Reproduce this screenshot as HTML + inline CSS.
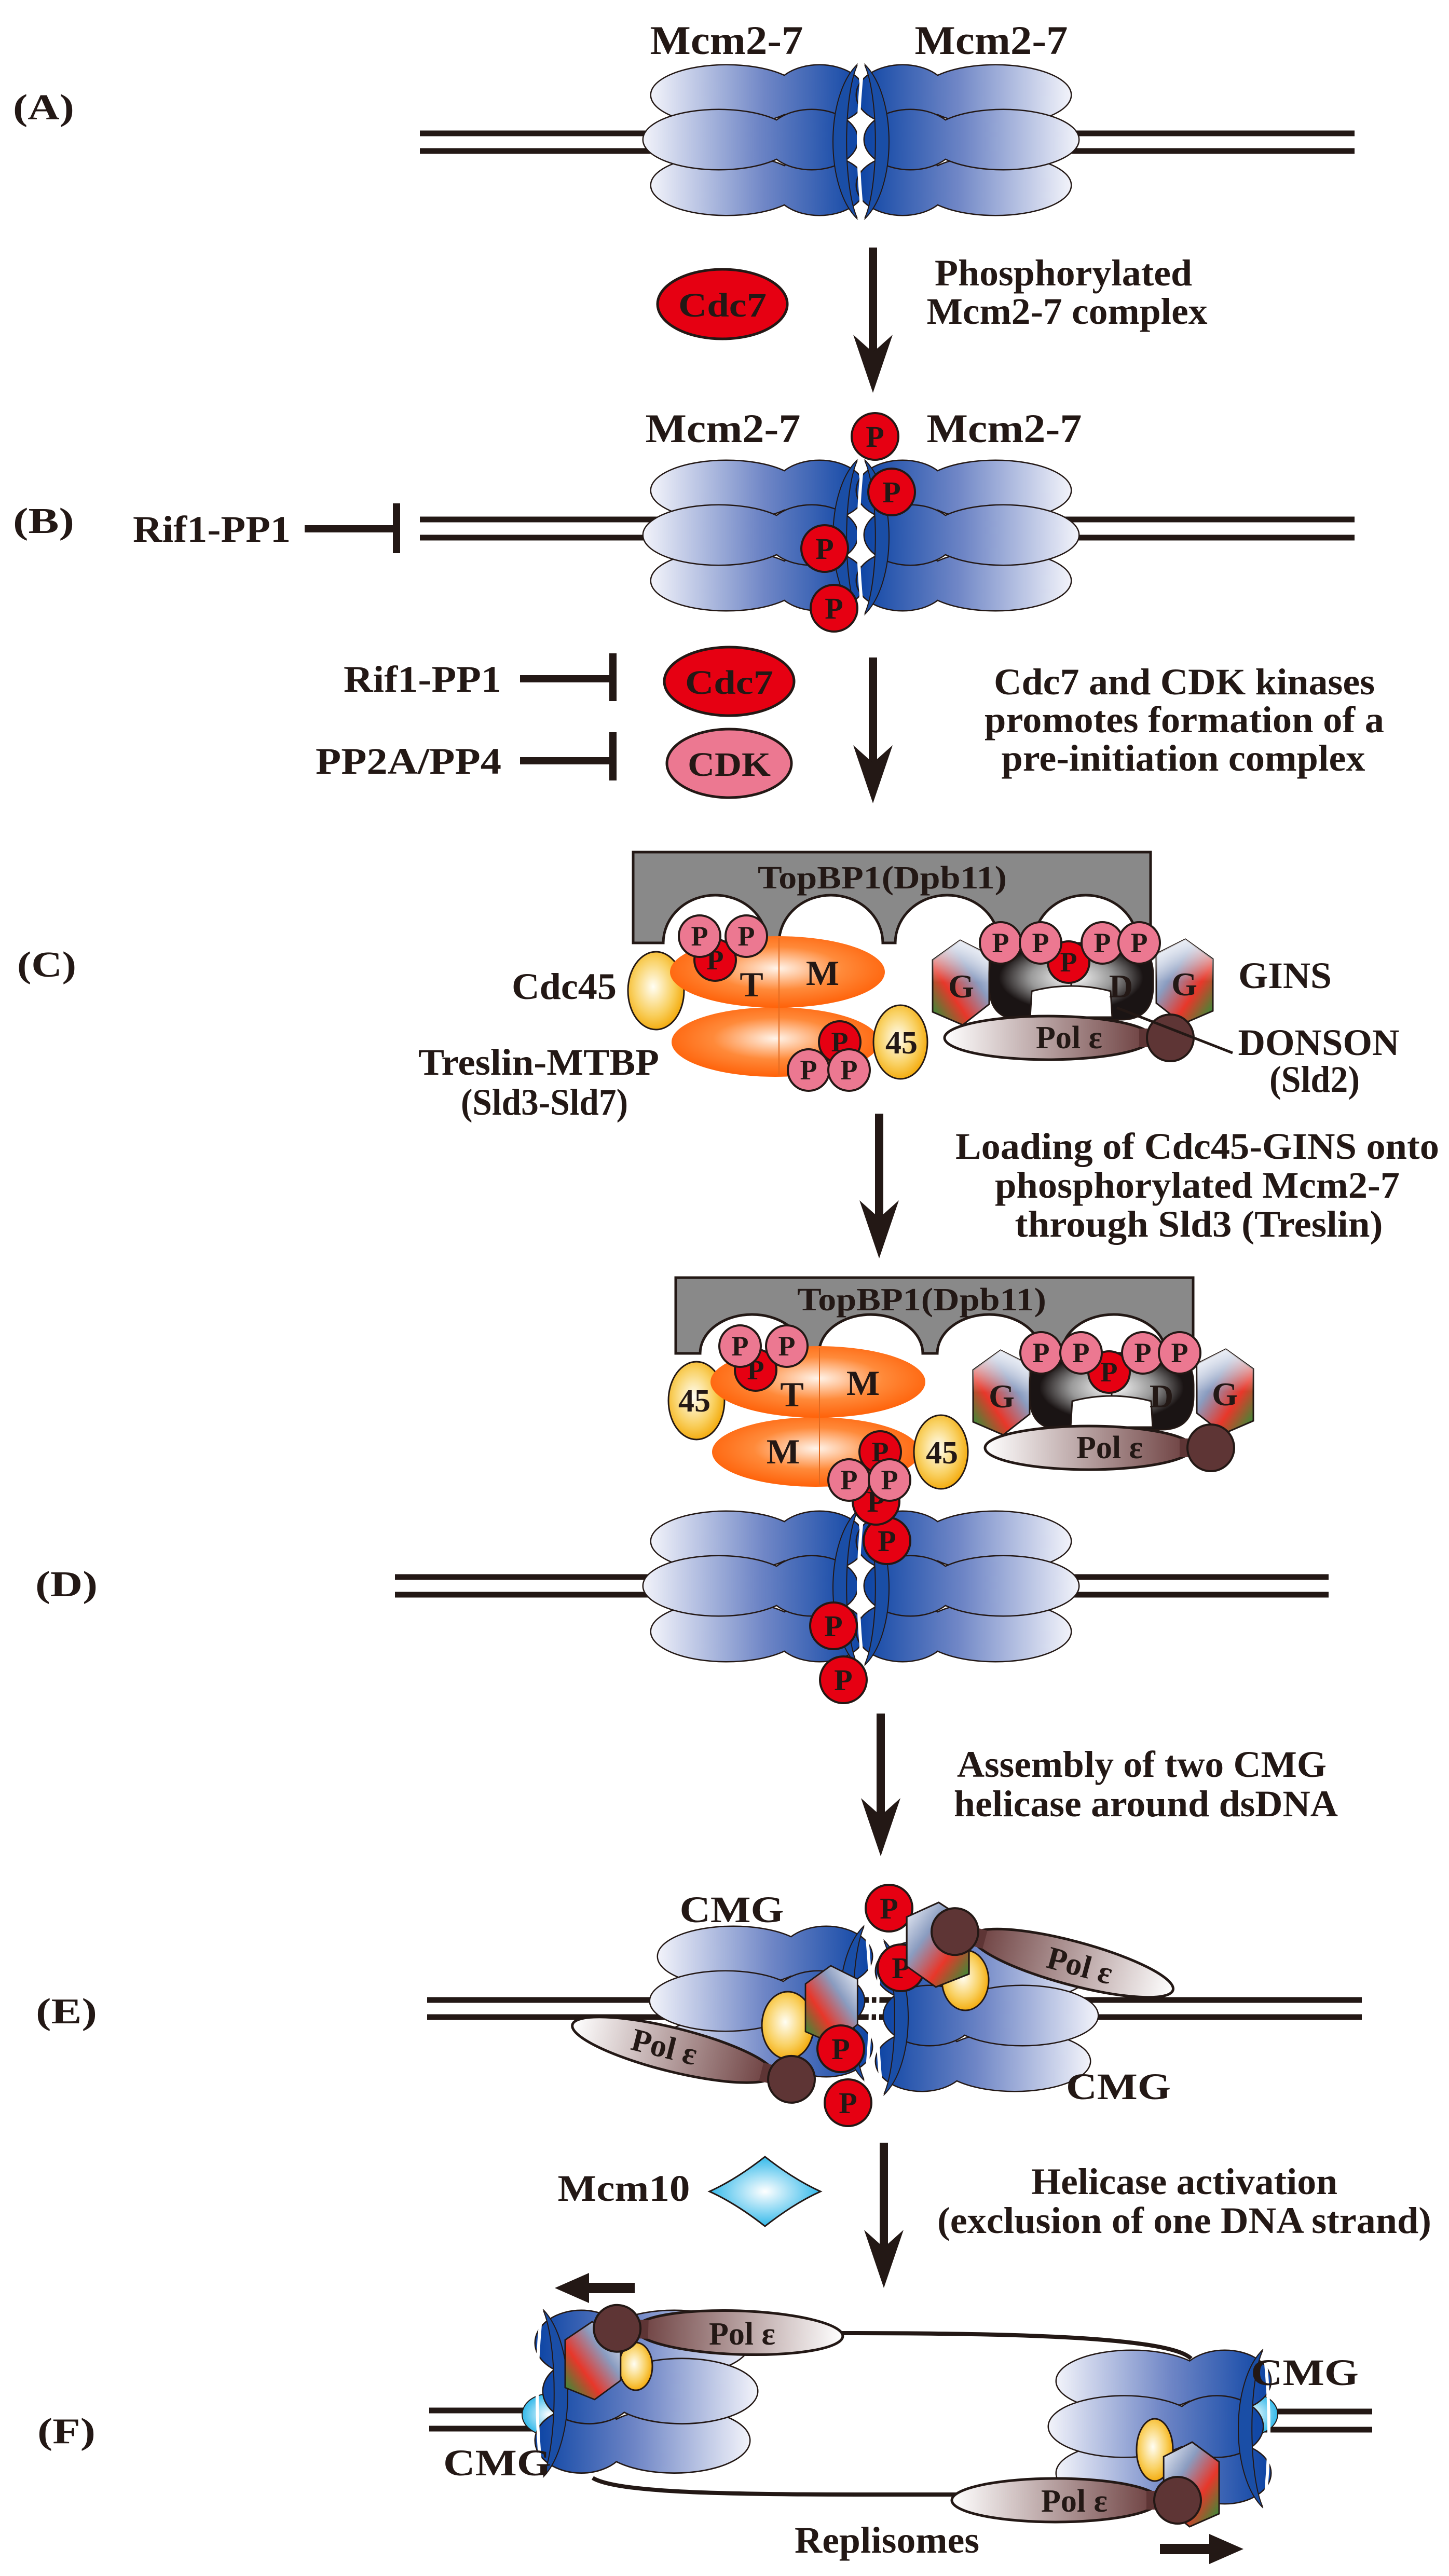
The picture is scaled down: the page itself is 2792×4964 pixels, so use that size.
<!DOCTYPE html>
<html><head><meta charset="utf-8"><style>
html,body{margin:0;padding:0;background:#fff;}
svg{display:block;}
.t{font-family:"Liberation Serif",serif;font-weight:bold;fill:#231815;}
</style></head><body>
<svg width="2792" height="4964" viewBox="0 0 2792 4964" xmlns="http://www.w3.org/2000/svg">
<defs>
<linearGradient id="gMcm" gradientUnits="userSpaceOnUse" x1="-420" y1="0" x2="-20" y2="0">
<stop offset="0" stop-color="#f2f3fa"/><stop offset="0.55" stop-color="#6f86c6"/><stop offset="1" stop-color="#1248a6"/></linearGradient>
<linearGradient id="gPol" gradientUnits="userSpaceOnUse" x1="-200" y1="0" x2="200" y2="0">
<stop offset="0" stop-color="#ffffff"/><stop offset="1" stop-color="#6a3c3c"/></linearGradient>
<radialGradient id="gOr" cx="0.5" cy="0.45" r="0.6"><stop offset="0" stop-color="#fff4ea"/><stop offset="0.5" stop-color="#ff8a3a"/><stop offset="1" stop-color="#ff5a00"/></radialGradient>
<radialGradient id="gY" cx="0.45" cy="0.45" r="0.6"><stop offset="0" stop-color="#fffef4"/><stop offset="0.6" stop-color="#f9d060"/><stop offset="1" stop-color="#f3a500"/></radialGradient>
<radialGradient id="gBk" cx="0.5" cy="0.45" r="0.55"><stop offset="0" stop-color="#ffffff"/><stop offset="0.45" stop-color="#9a9a9a"/><stop offset="0.8" stop-color="#1a1414"/><stop offset="1" stop-color="#1a1414"/></radialGradient>
<radialGradient id="gCy" cx="0.5" cy="0.5" r="0.55"><stop offset="0" stop-color="#ffffff"/><stop offset="1" stop-color="#1fb2e8"/></radialGradient>
<linearGradient id="gHex" x1="0" y1="1" x2="1" y2="0"><stop offset="0" stop-color="#0fa03a"/><stop offset="0.35" stop-color="#e8372a"/><stop offset="0.65" stop-color="#8a9cc0"/><stop offset="1" stop-color="#f4f6fb"/></linearGradient>
<linearGradient id="gHex2" x1="0" y1="0" x2="0" y2="1"><stop offset="0" stop-color="#f4f6fb" stop-opacity="0.9"/><stop offset="0.5" stop-color="#ffffff" stop-opacity="0"/></linearGradient>

<g id="layer">
<ellipse cx="-274" cy="0" rx="145" ry="57" fill="none" stroke="#231815" stroke-width="5"/>
<ellipse cx="-95" cy="0" rx="88" ry="57" fill="none" stroke="#231815" stroke-width="5"/>
<ellipse cx="-274" cy="0" rx="145" ry="57" fill="url(#gMcm)"/>
<ellipse cx="-95" cy="0" rx="88" ry="57" fill="url(#gMcm)"/>
</g>
<g id="mcmL">
<use href="#layer" transform="translate(15,-90)"/>
<use href="#layer" transform="translate(15,84)"/>
<use href="#layer" transform="translate(0,-4)"/>
<path d="M-6,-150 C-70,-90 -70,90 -6,150 C-35,90 -35,-90 -6,-150Z" fill="#1a4ea6" stroke="#231815" stroke-width="2"/>
<path d="M-4,-150 Q14,0 -4,150" fill="none" stroke="#fff" stroke-width="6"/>
</g>
<g id="mcm"><use href="#mcmL"/><use href="#mcmL" transform="scale(-1,1)"/></g>

<g id="polS">
<ellipse cx="0" cy="0" rx="200" ry="42" fill="url(#gPol)" stroke="#231815" stroke-width="5"/>
<rect x="175" y="-18" width="60" height="36" fill="#5e3535"/>
<circle cx="235" cy="0" r="45" fill="#5e3535" stroke="#231815" stroke-width="4"/>
</g>
<polygon id="hexL" points="0,38 53,0 109,28 109,123 58,163 0,138" fill="url(#gHex)" stroke="#231815" stroke-width="3"/>
<polygon id="hexW" points="0,38 53,0 109,28 109,123 58,163 0,138" fill="url(#gHex2)"/>

<g id="pR"><circle r="45" fill="#e60012" stroke="#231815" stroke-width="4"/><text class="t" y="20" text-anchor="middle" font-size="58">P</text></g>
<g id="pr"><circle r="40" fill="#e60012" stroke="#231815" stroke-width="4"/><text class="t" y="18" text-anchor="middle" font-size="54">P</text></g>
<g id="pk"><circle r="40" fill="#ec7891" stroke="#231815" stroke-width="4"/><text class="t" y="18" text-anchor="middle" font-size="54">P</text></g>

<g id="pic">
<ellipse cx="1264" cy="1909" rx="54" ry="75" fill="url(#gY)" stroke="#231815" stroke-width="3"/>
<ellipse cx="1494" cy="2008" rx="200" ry="67" fill="url(#gOr)"/>
<ellipse cx="1498" cy="1873" rx="207" ry="69" fill="url(#gOr)"/>
<line x1="1501" y1="1808" x2="1501" y2="2072" stroke="#e06a20" stroke-width="2"/>
<use href="#pr" x="1378" y="1850"/>
<use href="#pk" x="1348" y="1804"/>
<use href="#pk" x="1438" y="1804"/>
<text class="t" x="1448" y="1920" text-anchor="middle" font-size="68">T</text>
<text class="t" x="1585" y="1898" text-anchor="middle" font-size="68">M</text>
<ellipse cx="1735" cy="2008" rx="52" ry="71" fill="url(#gY)" stroke="#231815" stroke-width="3"/>
<text class="t" x="1737" y="2030" text-anchor="middle" font-size="62">45</text>
<use href="#pr" x="1618" y="2008"/>
<use href="#pk" x="1558" y="2062"/>
<use href="#pk" x="1636" y="2062"/>
<use href="#hexL" transform="translate(1797,1812)"/>
<use href="#hexW" transform="translate(1797,1812)"/>
<use href="#hexL" transform="translate(2337,1810) scale(-1,1)"/>
<use href="#hexW" transform="translate(2337,1810) scale(-1,1)"/>
<path d="M1906,1880 Q1906,1817 1965,1817 H2163 Q2222,1817 2222,1880 V1900 Q2222,1965 2160,1965 H1968 Q1906,1965 1906,1900Z" fill="url(#gBk)" stroke="#231815" stroke-width="3"/>
<path d="M1985,1960 L1988,1910 Q2064,1890 2140,1910 L2143,1960Z" fill="#fff" stroke="#231815" stroke-width="3"/>
<line x1="2064" y1="1860" x2="2064" y2="1900" stroke="#231815" stroke-width="3"/>
<use href="#pr" x="2059" y="1854"/>
<use href="#pk" x="1928" y="1817"/>
<use href="#pk" x="2005" y="1817"/>
<use href="#pk" x="2124" y="1817"/>
<use href="#pk" x="2195" y="1817"/>
<text class="t" x="1852" y="1922" text-anchor="middle" font-size="64">G</text>
<text class="t" x="2282" y="1918" text-anchor="middle" font-size="64">G</text>
<text class="t" x="2160" y="1922" text-anchor="middle" font-size="64" fill="#231815">D</text>
<use href="#polS" transform="translate(2020,2000)"/>
<text class="t" x="2060" y="2020" text-anchor="middle" font-size="62">Pol ε</text>
</g>
<polygon id="ah" points="0,0 -38,-112 0,-78 38,-112" fill="#231815"/>
</defs>

<!-- (A) -->
<text class="t" x="84" y="230" text-anchor="middle" font-size="70" textLength="118" lengthAdjust="spacingAndGlyphs">(A)</text>
<text class="t" x="1400" y="104" text-anchor="middle" font-size="78" textLength="295" lengthAdjust="spacingAndGlyphs">Mcm2-7</text>
<text class="t" x="1910" y="104" text-anchor="middle" font-size="78" textLength="295" lengthAdjust="spacingAndGlyphs">Mcm2-7</text>
<g stroke="#231815" stroke-width="11"><line x1="809" y1="257" x2="1300" y2="257"/><line x1="809" y1="291" x2="1300" y2="291"/><line x1="2000" y1="257" x2="2610" y2="257"/><line x1="2000" y1="291" x2="2610" y2="291"/></g>
<use href="#mcm" transform="translate(1659,273)"/>
<ellipse cx="1392" cy="586" rx="125" ry="67" fill="#e60012" stroke="#231815" stroke-width="5"/>
<text class="t" x="1392" y="610" text-anchor="middle" font-size="66" textLength="170" lengthAdjust="spacingAndGlyphs">Cdc7</text>
<line x1="1682" y1="477" x2="1682" y2="690" stroke="#231815" stroke-width="16"/><use href="#ah" x="1682" y="757"/>
<text class="t" x="2049" y="550" text-anchor="middle" font-size="72" textLength="496" lengthAdjust="spacingAndGlyphs">Phosphorylated</text>
<text class="t" x="2056" y="624" text-anchor="middle" font-size="72" textLength="541" lengthAdjust="spacingAndGlyphs">Mcm2-7 complex</text>

<!-- (B) -->
<text class="t" x="84" y="1027" text-anchor="middle" font-size="70" textLength="118" lengthAdjust="spacingAndGlyphs">(B)</text>
<text class="t" x="1393" y="852" text-anchor="middle" font-size="78" textLength="299" lengthAdjust="spacingAndGlyphs">Mcm2-7</text>
<text class="t" x="1935" y="852" text-anchor="middle" font-size="78" textLength="299" lengthAdjust="spacingAndGlyphs">Mcm2-7</text>
<text class="t" x="408" y="1044" text-anchor="middle" font-size="72" textLength="304" lengthAdjust="spacingAndGlyphs">Rif1-PP1</text>
<line x1="587" y1="1019" x2="764" y2="1019" stroke="#231815" stroke-width="14"/><line x1="764" y1="970" x2="764" y2="1066" stroke="#231815" stroke-width="14"/>
<g stroke="#231815" stroke-width="11"><line x1="809" y1="1001" x2="1300" y2="1001"/><line x1="809" y1="1036" x2="1300" y2="1036"/><line x1="2000" y1="1001" x2="2610" y2="1001"/><line x1="2000" y1="1036" x2="2610" y2="1036"/></g>
<use href="#mcm" transform="translate(1659,1035)"/>
<use href="#pR" x="1686" y="841"/><use href="#pR" x="1718" y="948"/><use href="#pR" x="1589" y="1057"/><use href="#pR" x="1607" y="1172"/>
<text class="t" x="814" y="1333" text-anchor="middle" font-size="72" textLength="304" lengthAdjust="spacingAndGlyphs">Rif1-PP1</text>
<line x1="1002" y1="1308" x2="1181" y2="1308" stroke="#231815" stroke-width="14"/><line x1="1181" y1="1259" x2="1181" y2="1351" stroke="#231815" stroke-width="14"/>
<text class="t" x="787" y="1491" text-anchor="middle" font-size="72" textLength="358" lengthAdjust="spacingAndGlyphs">PP2A/PP4</text>
<line x1="1002" y1="1466" x2="1181" y2="1466" stroke="#231815" stroke-width="14"/><line x1="1181" y1="1411" x2="1181" y2="1504" stroke="#231815" stroke-width="14"/>
<ellipse cx="1405" cy="1313" rx="125" ry="66" fill="#e60012" stroke="#231815" stroke-width="5"/>
<text class="t" x="1405" y="1337" text-anchor="middle" font-size="66" textLength="170" lengthAdjust="spacingAndGlyphs">Cdc7</text>
<ellipse cx="1405" cy="1471" rx="120" ry="66" fill="#ec7891" stroke="#231815" stroke-width="5"/>
<text class="t" x="1405" y="1495" text-anchor="middle" font-size="66" textLength="160" lengthAdjust="spacingAndGlyphs">CDK</text>
<line x1="1682" y1="1267" x2="1682" y2="1480" stroke="#231815" stroke-width="16"/><use href="#ah" x="1682" y="1548"/>
<text class="t" x="2282" y="1338" text-anchor="middle" font-size="72" textLength="734" lengthAdjust="spacingAndGlyphs">Cdc7 and CDK kinases</text>
<text class="t" x="2282" y="1411" text-anchor="middle" font-size="72" textLength="770" lengthAdjust="spacingAndGlyphs">promotes formation of a</text>
<text class="t" x="2280" y="1485" text-anchor="middle" font-size="72" textLength="701" lengthAdjust="spacingAndGlyphs">pre-initiation complex</text>

<!-- (C) -->
<text class="t" x="90" y="1882" text-anchor="middle" font-size="70" textLength="114" lengthAdjust="spacingAndGlyphs">(C)</text>
<path d="M1220,1642 H2217 V1817 H2192 A100 92 0 0 0 1992 1817 H1925 A100 92 0 0 0 1725 1817 H1701 A100 92 0 0 0 1501 1817 H1478 A100 92 0 0 0 1278 1817 H1220 Z" fill="#898989" stroke="#231815" stroke-width="5"/>
<text class="t" x="1700" y="1712" text-anchor="middle" font-size="62" textLength="480" lengthAdjust="spacingAndGlyphs">TopBP1(Dpb11)</text>
<use href="#pic"/>
<line x1="2152" y1="1942" x2="2375" y2="2029" stroke="#231815" stroke-width="5"/>
<text class="t" x="1087" y="1925" text-anchor="middle" font-size="72" textLength="202" lengthAdjust="spacingAndGlyphs">Cdc45</text>
<text class="t" x="1038" y="2071" text-anchor="middle" font-size="72" textLength="464" lengthAdjust="spacingAndGlyphs">Treslin-MTBP</text>
<text class="t" x="1049" y="2148" text-anchor="middle" font-size="72" textLength="322" lengthAdjust="spacingAndGlyphs">(Sld3-Sld7)</text>
<text class="t" x="2476" y="1904" text-anchor="middle" font-size="72" textLength="180" lengthAdjust="spacingAndGlyphs">GINS</text>
<text class="t" x="2541" y="2033" text-anchor="middle" font-size="72" textLength="311" lengthAdjust="spacingAndGlyphs">DONSON</text>
<text class="t" x="2533" y="2104" text-anchor="middle" font-size="72" textLength="174" lengthAdjust="spacingAndGlyphs">(Sld2)</text>
<line x1="1694" y1="2146" x2="1694" y2="2360" stroke="#231815" stroke-width="16"/><use href="#ah" x="1694" y="2425"/>
<text class="t" x="2307" y="2233" text-anchor="middle" font-size="72" textLength="932" lengthAdjust="spacingAndGlyphs">Loading of Cdc45-GINS onto</text>
<text class="t" x="2307" y="2308" text-anchor="middle" font-size="72" textLength="780" lengthAdjust="spacingAndGlyphs">phosphorylated Mcm2-7</text>
<text class="t" x="2310" y="2383" text-anchor="middle" font-size="72" textLength="709" lengthAdjust="spacingAndGlyphs">through Sld3 (Treslin)</text>

<!-- (D) -->
<text class="t" x="128" y="3076" text-anchor="middle" font-size="70" textLength="120" lengthAdjust="spacingAndGlyphs">(D)</text>
<g stroke="#231815" stroke-width="11"><line x1="761" y1="3039" x2="1300" y2="3039"/><line x1="761" y1="3073" x2="1300" y2="3073"/><line x1="2000" y1="3039" x2="2560" y2="3039"/><line x1="2000" y1="3073" x2="2560" y2="3073"/></g>
<use href="#mcm" transform="translate(1659,3060)"/>
<use href="#pR" x="1606" y="3133"/><use href="#pR" x="1625" y="3237"/>
<use href="#pR" x="1709" y="2969"/><use href="#pR" x="1688" y="2893"/>
<path d="M1302,2462 H2299 V2608 H2246 A100 75 0 0 0 2046 2608 H2006 A100 75 0 0 0 1806 2608 H1778 A100 75 0 0 0 1578 2608 H1549 A100 75 0 0 0 1349 2608 H1302 Z" fill="#898989" stroke="#231815" stroke-width="5"/>
<text class="t" x="1776" y="2525" text-anchor="middle" font-size="62" textLength="480" lengthAdjust="spacingAndGlyphs">TopBP1(Dpb11)</text>
<use href="#pic" transform="translate(78,790)"/>
<text class="t" x="1338" y="2720" text-anchor="middle" font-size="62">45</text>
<text class="t" x="1509" y="2820" text-anchor="middle" font-size="68">M</text>
<line x1="1697" y1="3302" x2="1697" y2="3510" stroke="#231815" stroke-width="16"/><use href="#ah" x="1697" y="3577"/>
<text class="t" x="2200" y="3424" text-anchor="middle" font-size="72" textLength="712" lengthAdjust="spacingAndGlyphs">Assembly of two CMG</text>
<text class="t" x="2208" y="3500" text-anchor="middle" font-size="72" textLength="740" lengthAdjust="spacingAndGlyphs">helicase around dsDNA</text>

<!-- (E) -->
<text class="t" x="128" y="3899" text-anchor="middle" font-size="70" textLength="118" lengthAdjust="spacingAndGlyphs">(E)</text>
<g stroke="#231815" stroke-width="11"><line x1="823" y1="3854" x2="2624" y2="3854"/><line x1="823" y1="3887" x2="2624" y2="3887"/></g>
<use href="#mcmL" transform="translate(1672,3860)"/>
<use href="#mcmL" transform="translate(1696,3888) scale(-1,1)"/>
<use href="#pR" x="1713" y="3677"/>
<use href="#pR" x="1736" y="3792"/>
<ellipse cx="1860" cy="3816" rx="45" ry="58" fill="url(#gY)" stroke="#231815" stroke-width="3"/>
<use href="#hexL" transform="translate(1867,3666) scale(-1.1,1)"/>
<use href="#polS" transform="translate(2067,3783) rotate(15) scale(-1,1)"/>
<text class="t" x="2080" y="3808" text-anchor="middle" font-size="62" transform="rotate(15 2080 3790)">Pol ε</text>
<text class="t" x="1410" y="3704" text-anchor="middle" font-size="72" textLength="201" lengthAdjust="spacingAndGlyphs">CMG</text>
<ellipse cx="1518" cy="3903" rx="50" ry="65" fill="url(#gY)" stroke="#231815" stroke-width="3"/>
<use href="#hexL" transform="translate(1552,3788) scale(0.92,0.92)"/>
<use href="#pR" x="1620" y="3948"/>
<use href="#pR" x="1634" y="4052"/>
<use href="#polS" transform="translate(1297,3950) rotate(14)"/>
<text class="t" x="1280" y="3965" text-anchor="middle" font-size="62" transform="rotate(14 1280 3945)">Pol ε</text>
<text class="t" x="2155" y="4045" text-anchor="middle" font-size="72" textLength="202" lengthAdjust="spacingAndGlyphs">CMG</text>
<line x1="1703" y1="4129" x2="1703" y2="4342" stroke="#231815" stroke-width="16"/><use href="#ah" x="1703" y="4409"/>
<text class="t" x="1202" y="4241" text-anchor="middle" font-size="72" textLength="255" lengthAdjust="spacingAndGlyphs">Mcm10</text>
<path d="M1474,4156 Q1530,4200 1581,4223 Q1530,4246 1474,4290 Q1418,4246 1367,4223 Q1418,4200 1474,4156Z" fill="url(#gCy)" stroke="#231815" stroke-width="3"/>
<text class="t" x="2282" y="4228" text-anchor="middle" font-size="72" textLength="590" lengthAdjust="spacingAndGlyphs">Helicase activation</text>
<text class="t" x="2282" y="4303" text-anchor="middle" font-size="72" textLength="952" lengthAdjust="spacingAndGlyphs">(exclusion of one DNA strand)</text>

<!-- (F) -->
<text class="t" x="128" y="4708" text-anchor="middle" font-size="70" textLength="112" lengthAdjust="spacingAndGlyphs">(F)</text>
<line x1="1130" y1="4409" x2="1223" y2="4409" stroke="#231815" stroke-width="20"/><polygon points="1069,4409 1135,4380 1135,4438" fill="#231815"/>
<line x1="2235" y1="4912" x2="2330" y2="4912" stroke="#231815" stroke-width="20"/><polygon points="2396,4912 2330,4883 2330,4941" fill="#231815"/>
<g stroke="#231815" stroke-width="11"><line x1="827" y1="4645" x2="1102" y2="4645"/><line x1="827" y1="4680" x2="1102" y2="4680"/><line x1="2383" y1="4647" x2="2644" y2="4647"/><line x1="2383" y1="4682" x2="2644" y2="4682"/></g>
<path d="M1619,4496 C1900,4496 2250,4500 2295,4545" fill="none" stroke="#231815" stroke-width="8"/>
<path d="M1142,4775 C1200,4810 1500,4807 1853,4807" fill="none" stroke="#231815" stroke-width="8"/>
<ellipse cx="1058" cy="4653" rx="52" ry="40" fill="url(#gCy)" stroke="#231815" stroke-width="2"/>
<ellipse cx="2410" cy="4652" rx="52" ry="40" fill="url(#gCy)" stroke="#231815" stroke-width="2"/>
<use href="#mcmL" transform="translate(1040,4612) scale(-1,1.08)"/>
<use href="#mcmL" transform="translate(2440,4680) scale(1,1.02)"/>
<ellipse cx="1225" cy="4560" rx="32" ry="46" fill="url(#gY)" stroke="#231815" stroke-width="3"/>
<use href="#hexL" transform="translate(1089,4474) scale(0.98,0.92)"/>
<use href="#polS" transform="translate(1424,4495) rotate(2) scale(-1,1)"/>
<text class="t" x="1430" y="4518" text-anchor="middle" font-size="62">Pol ε</text>
<ellipse cx="2225" cy="4721" rx="35" ry="60" fill="url(#gY)" stroke="#231815" stroke-width="3"/>
<use href="#hexL" transform="translate(2349,4706) scale(-0.98,1)"/>
<use href="#polS" transform="translate(2034,4818)"/>
<text class="t" x="2070" y="4840" text-anchor="middle" font-size="62">Pol ε</text>
<text class="t" x="958" y="4770" text-anchor="middle" font-size="72" textLength="208" lengthAdjust="spacingAndGlyphs">CMG</text>
<text class="t" x="2514" y="4596" text-anchor="middle" font-size="72" textLength="208" lengthAdjust="spacingAndGlyphs">CMG</text>
<text class="t" x="1709" y="4919" text-anchor="middle" font-size="72" textLength="356" lengthAdjust="spacingAndGlyphs">Replisomes</text>
</svg>
</body></html>
